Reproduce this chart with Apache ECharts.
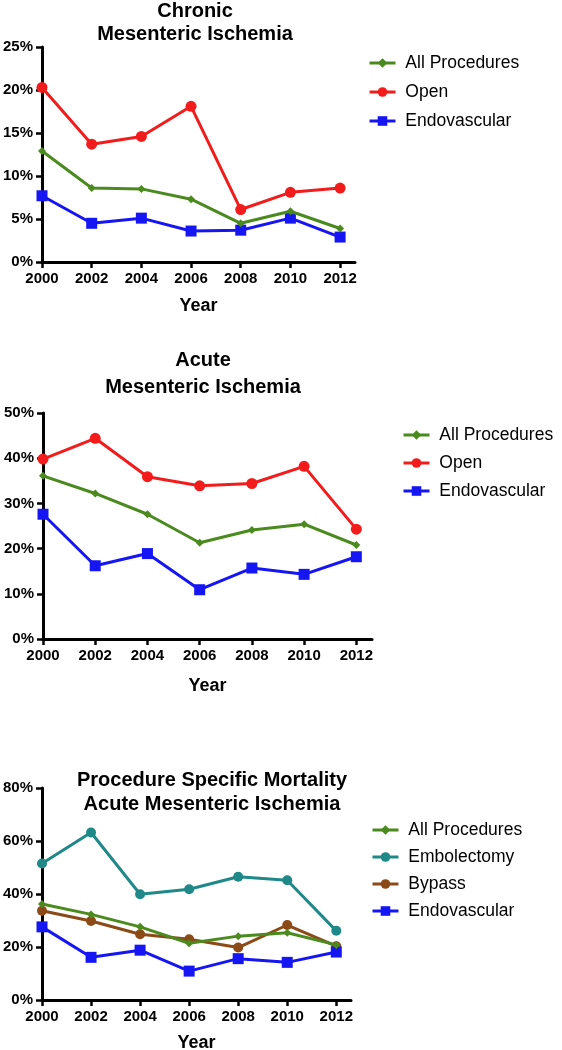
<!DOCTYPE html>
<html>
<head>
<meta charset="utf-8">
<script src="https://cdn.jsdelivr.net/npm/echarts@6/dist/echarts.min.js"></script>
<style>
html,body{margin:0;padding:0;background:#fff;}
#c{width:562px;height:1050px;}
</style>
</head>
<body>
<div id="c"></div>
<script>
const years = [2000, 2002, 2004, 2006, 2008, 2010, 2012];

// Panel 1: Chronic Mesenteric Ischemia (%)
const chronicAll  = [12.9, 8.6, 8.5, 7.3, 4.5, 5.9, 3.9];
const chronicOpen = [20.3, 13.7, 14.6, 18.1, 6.1, 8.1, 8.6];
const chronicEndo = [7.7, 4.5, 5.1, 3.6, 3.7, 5.1, 2.9];

// Panel 2: Acute Mesenteric Ischemia (%)
const acuteAll  = [36.1, 32.2, 27.6, 21.3, 24.1, 25.4, 20.8];
const acuteOpen = [39.8, 44.4, 35.9, 33.9, 34.4, 38.2, 24.3];
const acuteEndo = [27.6, 16.2, 18.9, 10.9, 15.7, 14.3, 18.2];

// Panel 3: Procedure Specific Mortality, Acute Mesenteric Ischemia (%)
const procAll   = [36.2, 32.3, 27.6, 21.4, 24.1, 25.4, 20.8];
const procEmbol = [51.5, 63.2, 39.9, 41.8, 46.5, 45.2, 26.1];
const procBypass= [33.7, 29.8, 24.8, 22.9, 19.8, 28.3, 20.3];
const procEndo  = [27.6, 16.1, 18.8, 10.9, 15.6, 14.2, 18.1];

const yTicks1 = [0, 25, 5];
const yTicks2 = [0, 50, 10];
const yTicks3 = [0, 80, 20];

const GREEN = '#4a8a1e', RED = '#f21c1c', BLUE = '#1616f5', TEAL = '#1f8888', BROWN = '#8c4a17';
const FONT = '"Liberation Sans", Arial, Helvetica, sans-serif';

function pairs(vals){ return years.map((y,i)=>[y, vals[i]]); }

const grids = [
  {left: 42, top: 47, width: 313, height: 215, outerBoundsMode: 'none', containLabel: false},
  {left: 43, top: 413, width: 329, height: 226, outerBoundsMode: 'none', containLabel: false},
  {left: 42, top: 788, width: 309, height: 212, outerBoundsMode: 'none', containLabel: false}
];
const yDefs = [yTicks1, yTicks2, yTicks3];
const nameGaps = [35, 38, 34];

const xAxes = grids.map((g,i)=>({
  type: 'value', gridIndex: i, min: 2000, max: 2012.6, interval: 2,
  name: 'Year', nameLocation: 'middle', nameGap: nameGaps[i],
  nameTextStyle: {fontFamily: FONT, fontWeight: 'bold', fontSize: 18, color: '#000'},
  axisLine: {show: true, onZero: false, lineStyle: {color: '#000', width: 3}},
  axisTick: {show: true, length: 6, lineStyle: {color: '#000', width: 2.5}, customValues: years},
  axisLabel: {fontFamily: FONT, fontWeight: 'bold', fontSize: 15, color: '#000', margin: 9, customValues: years,
    formatter: v => String(Math.round(v))},
  splitLine: {show: false}
}));

const yAxes = grids.map((g,i)=>({
  type: 'value', gridIndex: i, min: yDefs[i][0], max: yDefs[i][1], interval: yDefs[i][2],
  axisLine: {show: true, onZero: false, lineStyle: {color: '#000', width: 3}},
  axisTick: {show: true, length: 6, lineStyle: {color: '#000', width: 2.5}},
  axisLabel: {fontFamily: FONT, fontWeight: 'bold', fontSize: 15, color: '#000', margin: 9, formatter: '{value}%'},
  splitLine: {show: false}
}));

function line(name, vals, color, symbol, size, gi, z){
  return {
    type: 'line', name: name, xAxisIndex: gi, yAxisIndex: gi,
    data: pairs(vals), symbol: symbol, symbolSize: size, showAllSymbol: true,
    lineStyle: {color: color, width: 3}, itemStyle: {color: color},
    animation: false, z: z || 2
  };
}

const series = [
  line('Open', chronicOpen, RED, 'circle', 11, 0),
  line('Endovascular', chronicEndo, BLUE, 'rect', 11, 0),
  line('All Procedures', chronicAll, GREEN, 'diamond', 8, 0, 3),
  line('Open', acuteOpen, RED, 'circle', 11, 1),
  line('Endovascular', acuteEndo, BLUE, 'rect', 11, 1),
  line('All Procedures', acuteAll, GREEN, 'diamond', 8, 1, 3),
  line('Embolectomy', procEmbol, TEAL, 'circle', 10, 2),
  line('Bypass', procBypass, BROWN, 'circle', 10, 2),
  line('Endovascular', procEndo, BLUE, 'rect', 11, 2),
  line('All Procedures', procAll, GREEN, 'diamond', 8, 2, 3)
];

function legend(left, top, names, gap){
  return {
    orient: 'vertical', left: left, top: top, padding: 0, itemWidth: 26, itemHeight: 12, itemGap: gap,
    lineStyle: {width: 3}, data: names, formatter: n => ' ' + n,
    textStyle: {fontFamily: FONT, fontSize: 17.5, color: '#000'}
  };
}

const titleStyle = {fontFamily: FONT, fontWeight: 'bold', fontSize: 20, color: '#000'};

const option = {
  backgroundColor: '#fff',
  animation: false,
  title: [
    {text: 'Chronic\nMesenteric Ischemia', left: 195, top: 0, padding: 0, textAlign: 'center',
      textStyle: Object.assign({lineHeight: 23}, titleStyle)},
    {text: 'Acute\nMesenteric Ischemia', left: 203, top: 347, padding: 0, textAlign: 'center',
      textStyle: Object.assign({lineHeight: 27}, titleStyle)},
    {text: 'Procedure Specific Mortality\nAcute Mesenteric Ischemia', left: 212, top: 768, padding: 0, textAlign: 'center',
      textStyle: Object.assign({lineHeight: 24}, titleStyle)}
  ],
  grid: grids,
  xAxis: xAxes,
  yAxis: yAxes,
  legend: [
    legend(368, 54, ['All Procedures', 'Open', 'Endovascular'], 11),
    legend(402, 426, ['All Procedures', 'Open', 'Endovascular'], 10),
    legend(371, 821, ['All Procedures', 'Embolectomy', 'Bypass', 'Endovascular'], 9)
  ],
  series: series
};

const chart = echarts.init(document.getElementById('c'), null, {renderer: 'canvas'});
chart.setOption(option);
</script>
</body>
</html>
